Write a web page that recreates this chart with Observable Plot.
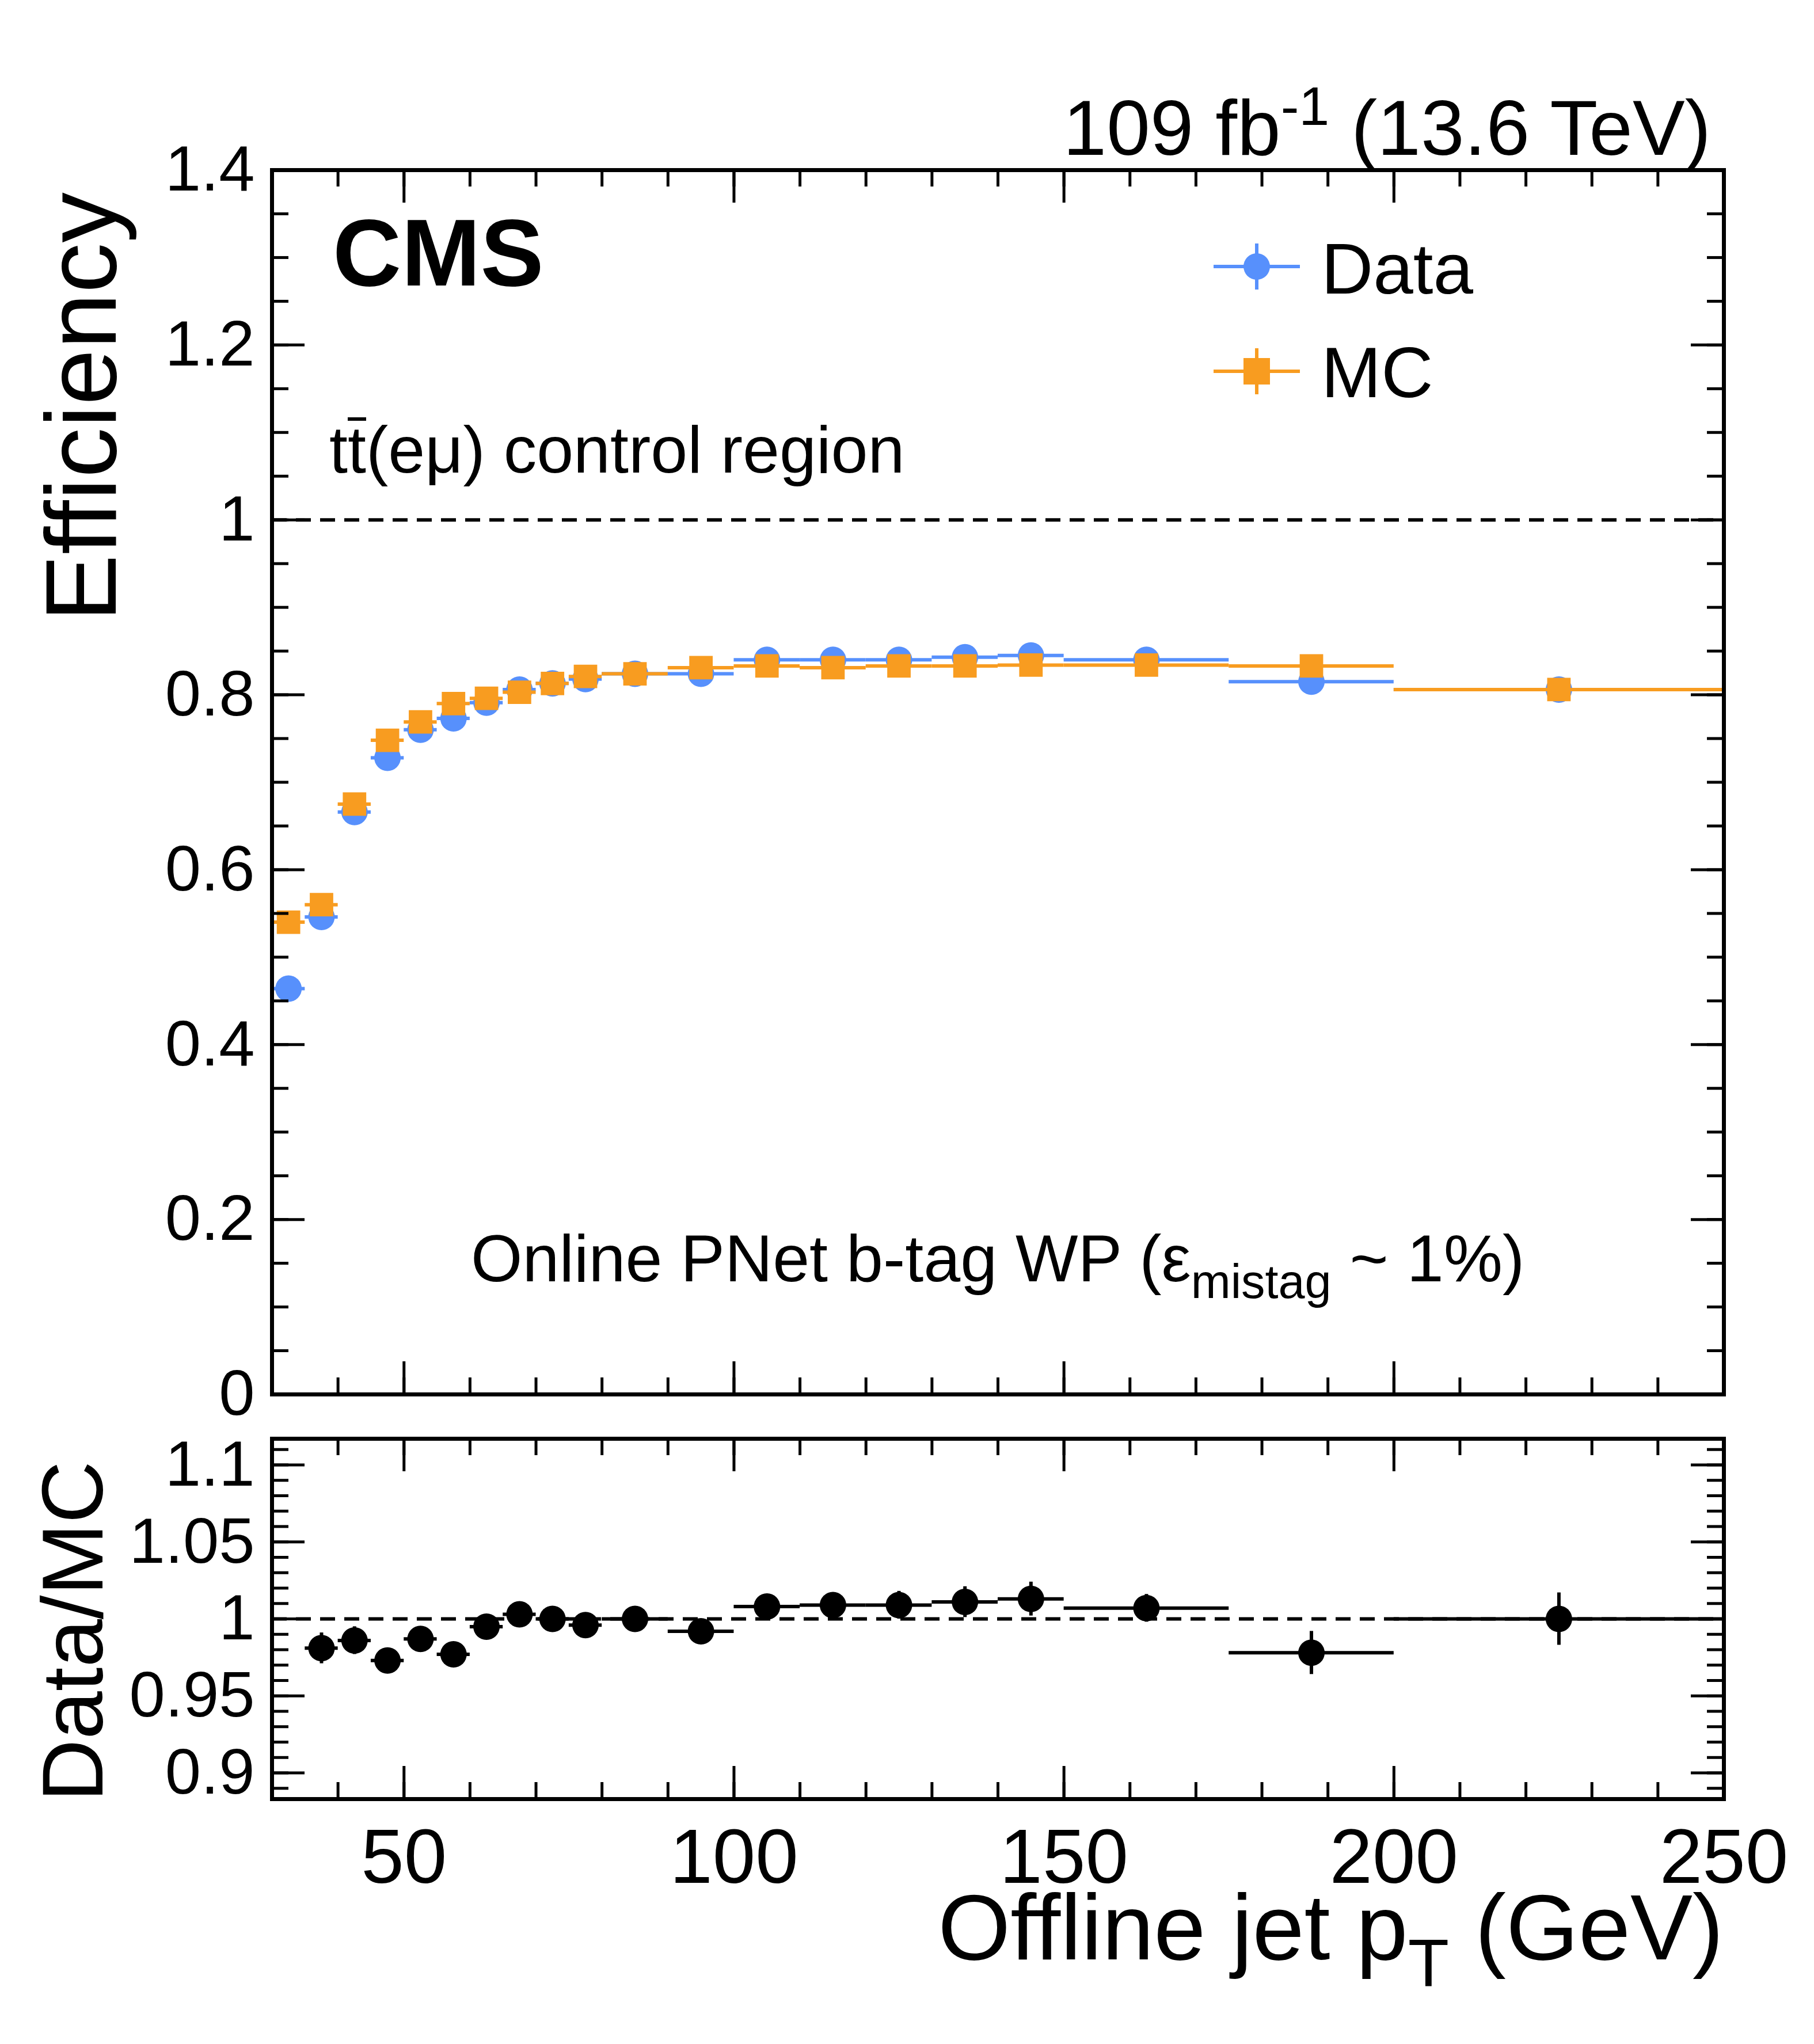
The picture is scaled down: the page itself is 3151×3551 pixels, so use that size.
<!DOCTYPE html>
<html><head><meta charset="utf-8">
<script src="https://cdn.jsdelivr.net/npm/d3@7"></script>
<script src="https://cdn.jsdelivr.net/npm/@observablehq/plot@0.6"></script>
<style>
body{margin:0;background:#fff;font-family:"Liberation Sans",Arial,sans-serif;}
#c{position:relative;width:3151px;height:3551px;}
.a{position:absolute;white-space:nowrap;color:#000;}
#main,#ratio{position:absolute;left:0;}
.ov{display:inline-block;border-top:6px solid #000;line-height:0.8;padding-top:4px;}
</style></head><body><div id="c"><div id="main"></div><div id="ratio"></div></div>
<script>
const binLo = [30,35,40,45,50,55,60,65,70,75,80,90,100,110,120,130,140,150,175,200];
const binHi = [35,40,45,50,55,60,65,70,75,80,90,100,110,120,130,140,150,175,200,250];
const effData = [0.464,0.546,0.666,0.728,0.760,0.773,0.791,0.806,0.813,0.818,0.824,0.824,0.840,0.840,0.840,0.843,0.845,0.840,0.815,0.806];
const effMC   = [0.540,0.560,0.675,0.748,0.769,0.790,0.796,0.803,0.813,0.821,0.824,0.831,0.833,0.831,0.833,0.833,0.834,0.834,0.833,0.806];
const errData = [0.008,0.008,0.008,0.007,0.007,0.006,0.006,0.006,0.006,0.006,0.005,0.006,0.006,0.007,0.008,0.009,0.010,0.008,0.012,0.014];
const errMC   = [0.004,0.004,0.004,0.004,0.003,0.003,0.003,0.003,0.003,0.003,0.003,0.003,0.003,0.003,0.003,0.003,0.003,0.003,0.003,0.003];
const ratio    = [null,0.981,0.986,0.973,0.987,0.977,0.995,1.003,1.000,0.996,1.000,0.992,1.008,1.009,1.009,1.011,1.013,1.007,0.978,1.000];
const ratioErr = [null,0.010,0.009,0.008,0.008,0.008,0.008,0.007,0.007,0.007,0.006,0.007,0.007,0.008,0.009,0.010,0.011,0.009,0.014,0.017];

const bins = binLo.map((lo,i)=>({lo,hi:binHi[i],x:(lo+binHi[i])/2,d:effData[i],de:errData[i],m:effMC[i],me:errMC[i],r:ratio[i],re:ratioErr[i]}));
const rbins = bins.filter(b=>b.r!=null);
const BLUE="#5790fc", ORANGE="#f89c20";
const W=3151, ML=472, MR=157;
const xdom=[30,250];
const FS=112;
const baseStyle={fontSize:FS+"px",fontFamily:"Liberation Sans, Arial, sans-serif",color:"black",overflow:"visible",background:"transparent"};

function ticksMarks(xMaj,xMin,yMaj,yMin,ydom,plotH){
  const yspan=ydom[1]-ydom[0], xspan=xdom[1]-xdom[0], plotW=W-ML-MR;
  const ly=L=>L*yspan/plotH, lx=L=>L*xspan/plotW;
  const ms=[];
  for (const [arr,L] of [[xMaj,57],[xMin,29]]) {
    ms.push(Plot.ruleX(arr,{x:d=>d,y1:ydom[0],y2:ydom[0]+ly(L),stroke:"black",strokeWidth:5}));
    ms.push(Plot.ruleX(arr,{x:d=>d,y1:ydom[1],y2:ydom[1]-ly(L),stroke:"black",strokeWidth:5}));
  }
  for (const [arr,L] of [[yMaj,57],[yMin,29]]) {
    ms.push(Plot.ruleY(arr,{y:d=>d,x1:xdom[0],x2:xdom[0]+lx(L),stroke:"black",strokeWidth:5}));
    ms.push(Plot.ruleY(arr,{y:d=>d,x1:xdom[1],x2:xdom[1]-lx(L),stroke:"black",strokeWidth:5}));
  }
  return ms;
}

const mainH=2460, mainTop=295, mainBot=38;
const yMain=[0,1.4];
const main = Plot.plot({
  width:W, height:mainH, marginLeft:ML, marginRight:MR, marginTop:mainTop, marginBottom:mainBot,
  x:{domain:xdom, axis:null},
  y:{domain:yMain, ticks:d3.range(0,1.41,0.2), tickFormat:d=>d3.format("~g")(+d.toFixed(2)), tickSize:0, tickPadding:30, label:null},
  style:baseStyle,
  marks:[
    Plot.ruleY([1],{stroke:"black",strokeWidth:6,strokeDasharray:"26,16"}),
    Plot.ruleY(bins,{y:"d",x1:"lo",x2:"hi",stroke:BLUE,strokeWidth:6}),
    Plot.ruleX(bins,{x:"x",y1:b=>b.d-b.de,y2:b=>b.d+b.de,stroke:BLUE,strokeWidth:6}),
    Plot.dot(bins,{x:"x",y:"d",r:23,fill:BLUE}),
    Plot.ruleY(bins,{y:"m",x1:"lo",x2:"hi",stroke:ORANGE,strokeWidth:6}),
    Plot.ruleX(bins,{x:"x",y1:b=>b.m-b.me,y2:b=>b.m+b.me,stroke:ORANGE,strokeWidth:6}),
    Plot.dot(bins,{x:"x",y:"m",r:23,symbol:"square",fill:ORANGE}),
    ...ticksMarks(d3.range(50,251,50),d3.range(30,251,10),d3.range(0,1.41,0.2),d3.range(0,1.41,0.05),yMain,mainH-mainTop-mainBot),
    Plot.frame({stroke:"black",strokeWidth:7})
  ]
});
document.getElementById("main").append(main);
document.getElementById("main").style.top="0px";

const rTop=2460, rH=1091, rMT=39, rMB=426;
const yR=[0.883,1.117];
const rp = Plot.plot({
  width:W, height:rH, marginLeft:ML, marginRight:MR, marginTop:rMT, marginBottom:rMB,
  x:{domain:xdom, ticks:[50,100,150,200,250], tickSize:0, tickPadding:50, label:null, fontSize:134},
  y:{domain:yR, ticks:[0.9,0.95,1,1.05,1.1], tickFormat:d=>d3.format("~g")(+d.toFixed(2)), tickSize:0, tickPadding:30, label:null},
  style:baseStyle,
  marks:[
    Plot.ruleY([1],{stroke:"black",strokeWidth:6,strokeDasharray:"26,16"}),
    Plot.ruleY(rbins,{y:"r",x1:"lo",x2:"hi",stroke:"black",strokeWidth:6}),
    Plot.ruleX(rbins,{x:"x",y1:b=>b.r-b.re,y2:b=>b.r+b.re,stroke:"black",strokeWidth:6}),
    Plot.dot(rbins,{x:"x",y:"r",r:23,fill:"black"}),
    ...ticksMarks(d3.range(50,251,50),d3.range(30,251,10),[0.9,0.95,1,1.05,1.1],d3.range(0.89,1.115,0.01),yR,rH-rMT-rMB),
    Plot.frame({stroke:"black",strokeWidth:7})
  ]
});
const rd=document.getElementById("ratio"); rd.append(rp); rd.style.top=rTop+"px";
// enlarge x tick labels
rp.querySelectorAll('[aria-label="x-axis tick label"] text, [aria-label="x-axis tick label"]').forEach(e=>e.setAttribute("font-size","134"));

const c=document.getElementById("c");
function add(html,css){const d=document.createElement("div");d.className="a";d.innerHTML=html;Object.assign(d.style,css);c.append(d);}
add('109 fb<sup style="font-size:70%;vertical-align:48%">-1</sup> (13.6 TeV)',{right:(W-2972)+"px",top:"130px",fontSize:"136px"});
add('CMS',{left:"578px",top:"345px",fontSize:"165px",fontWeight:"bold"});
add('t<span class="ov">t</span>(eμ) control region',{left:"572px",top:"715px",fontSize:"115px"});
add('Online PNet b-tag WP (ε<sub style="font-size:72%;vertical-align:-30%">mistag</sub> ~ 1%)',{left:"818px",top:"2120px",fontSize:"115px"});
add('Data',{left:"2295px",top:"395px",fontSize:"125px"});
add('MC',{left:"2295px",top:"575px",fontSize:"125px"});
add('Efficiency',{left:"40px",top:"1080px",fontSize:"175px",transform:"rotate(-90deg)",transformOrigin:"0 0"});
add('Data/MC',{left:"40px",top:"3130px",fontSize:"150px",transform:"rotate(-90deg)",transformOrigin:"0 0"});
add('Offline jet p<sub style="font-size:72%;vertical-align:-35%">T</sub> (GeV)',{right:(W-2994)+"px",top:"3255px",fontSize:"162px"});
const leg=document.createElementNS("http://www.w3.org/2000/svg","svg");
leg.setAttribute("width",W);leg.setAttribute("height",800);
leg.style.position="absolute";leg.style.left="0";leg.style.top="0";
leg.innerHTML=`<line x1="2108" x2="2258" y1="463" y2="463" stroke="${BLUE}" stroke-width="6"/><line x1="2183" x2="2183" y1="423" y2="503" stroke="${BLUE}" stroke-width="6"/><circle cx="2183" cy="463" r="23" fill="${BLUE}"/>
<line x1="2108" x2="2258" y1="645" y2="645" stroke="${ORANGE}" stroke-width="6"/><line x1="2183" x2="2183" y1="605" y2="685" stroke="${ORANGE}" stroke-width="6"/><rect x="2160" y="622" width="46" height="46" fill="${ORANGE}"/>`;
c.append(leg);
</script></body></html>
